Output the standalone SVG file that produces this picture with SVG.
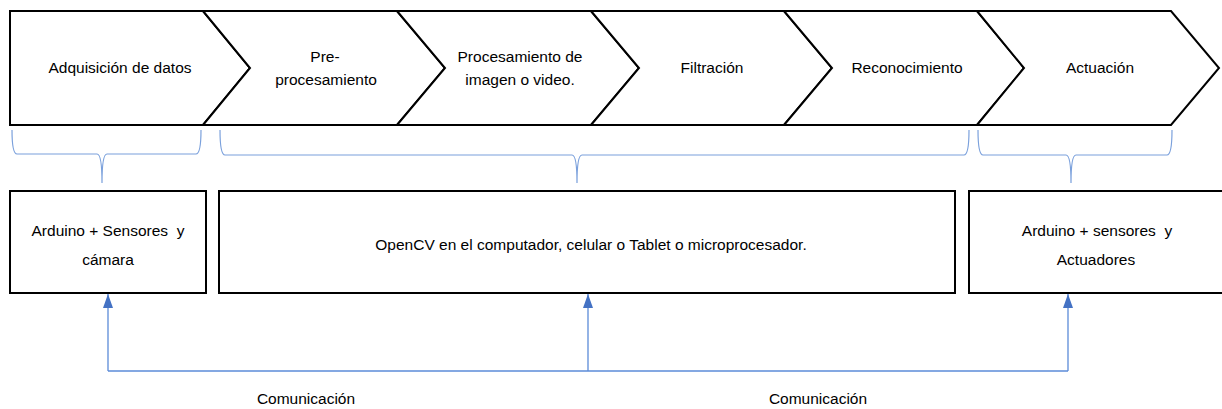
<svg xmlns="http://www.w3.org/2000/svg" width="1222" height="409" viewBox="0 0 1222 409">
<style>
.chev{fill:#fff;stroke:#000;stroke-width:2;stroke-linejoin:miter}
.box{fill:#fff;stroke:#000;stroke-width:2}
.t{font-family:"Liberation Sans",Arial,sans-serif;font-size:15.5px;fill:#000;text-anchor:middle;white-space:pre}
.brace{fill:none;stroke:#7AA0DC;stroke-width:1.2}
.conn{fill:none;stroke:#5B8BD8;stroke-width:1.3}
</style>
<defs>
<marker id="ah" viewBox="0 0 14 10" refX="14" refY="5" markerWidth="14" markerHeight="10" markerUnits="userSpaceOnUse" orient="auto">
<path d="M0,0 L14,5 L0,10 Z" fill="#4472C4"/>
</marker>
</defs>
<rect width="1222" height="409" fill="#fff"/>
<g id="n1"><path class="chev" d="M10,11 L203,11 L250,68 L203,125 L10,125 Z"/><text class="t" x="120" y="73">Adquisición de datos</text></g>
<g id="n2"><path class="chev" d="M203,11 L397,11 L445,68 L397,125 L203,125 L250,68 Z"/><text class="t" x="325" y="62">Pre-</text><text class="t" x="326" y="85">procesamiento</text></g>
<g id="n3"><path class="chev" d="M397,11 L591,11 L639,68 L591,125 L397,125 L445,68 Z"/><text class="t" x="520" y="62">Procesamiento de</text><text class="t" x="520" y="85">imagen o video.</text></g>
<g id="n4"><path class="chev" d="M591,11 L784,11 L832,68 L784,125 L591,125 L639,68 Z"/><text class="t" x="712" y="73">Filtración</text></g>
<g id="n5"><path class="chev" d="M784,11 L977,11 L1024,68 L977,125 L784,125 L832,68 Z"/><text class="t" x="907" y="73">Reconocimiento</text></g>
<g id="n6"><path class="chev" d="M977,11 L1171,11 L1219,68 L1171,125 L977,125 L1024,68 Z"/><text class="t" x="1100" y="73">Actuación</text></g>
<g id="braces">
<path class="brace" d="M12,130 Q12,154 17,154 L97,154 Q102,154 102,183 Q102,154 107,154 L196,154 Q201,154 201,130"/>
<path class="brace" d="M220,130 Q220,155 225,155 L572,155 Q577,155 577,183 Q577,155 582,155 L964,155 Q969,155 969,130"/>
<path class="brace" d="M978,130 Q978,155 983,155 L1066,155 Q1071,155 1071,183 Q1071,155 1076,155 L1167,155 Q1172,155 1172,130"/>
</g>
<g id="b1"><rect class="box" x="10" y="191" width="196" height="102"/><text class="t" x="108" y="236" xml:space="preserve">Arduino + Sensores  y</text><text class="t" x="108" y="265">cámara</text></g>
<g id="b2"><rect class="box" x="219" y="191" width="736" height="102"/><text class="t" x="591" y="250">OpenCV en el computador, celular o Tablet o microprocesador.</text></g>
<g id="b3"><rect class="box" x="969" y="191" width="256" height="102"/><text class="t" x="1097" y="236" xml:space="preserve">Arduino + sensores  y</text><text class="t" x="1096" y="265">Actuadores</text></g>
<g id="connectors">
<path class="conn" d="M108,371 L1068,371"/>
<path class="conn" d="M108,371 L108,294" marker-end="url(#ah)"/>
<path class="conn" d="M588,371 L588,294" marker-end="url(#ah)"/>
<path class="conn" d="M1068,371 L1068,294" marker-end="url(#ah)"/>
</g>
<text class="t" x="306" y="404">Comunicación</text>
<text class="t" x="818" y="404">Comunicación</text>
</svg>
